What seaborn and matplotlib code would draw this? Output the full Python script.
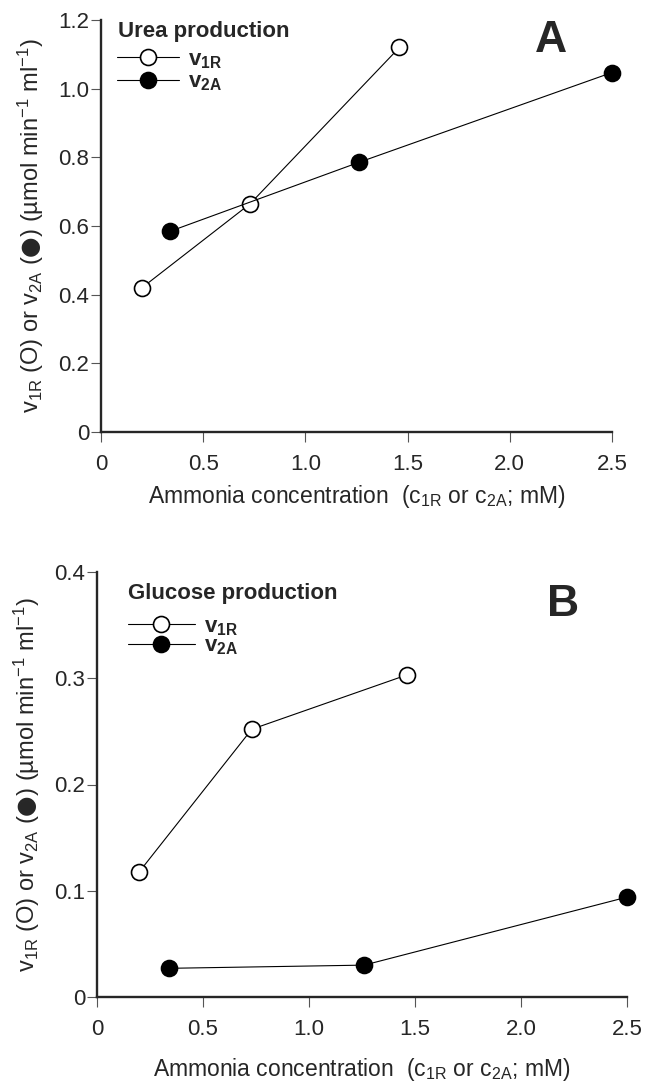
import matplotlib
matplotlib.use("Agg")
import matplotlib.pyplot as plt
import seaborn as sns

sns.set_style("ticks")
plt.rcParams["font.family"] = ["Liberation Sans", "DejaVu Sans"]
plt.rcParams["mathtext.fontset"] = "custom"
plt.rcParams["mathtext.rm"] = "Liberation Sans"
plt.rcParams["mathtext.it"] = "Liberation Sans:italic"
plt.rcParams["mathtext.bf"] = "Liberation Sans:bold"
plt.rcParams["mathtext.sf"] = "DejaVu Sans"

# --------------------------------------------------
# Data
# --------------------------------------------------

urea_c1R = [0.20, 0.73, 1.46]
urea_v1R = [0.42, 0.665, 1.12]
urea_c2A = [0.34, 1.26, 2.50]
urea_v2A = [0.585, 0.785, 1.047]

gluc_c1R = [0.20, 0.73, 1.46]
gluc_v1R = [0.118, 0.252, 0.303]
gluc_c2A = [0.34, 1.26, 2.50]
gluc_v2A = [0.027, 0.030, 0.094]

urea_yticks = [0, 0.2, 0.4, 0.6, 0.8, 1.0, 1.2]
urea_ylabels = ["0", "0.2", "0.4", "0.6", "0.8", "1.0", "1.2"]
gluc_yticks = [0, 0.1, 0.2, 0.3, 0.4]
gluc_ylabels = ["0", "0.1", "0.2", "0.3", "0.4"]
xticks = [0, 0.5, 1.0, 1.5, 2.0, 2.5]
xlabels = ["0", "0.5", "1.0", "1.5", "2.0", "2.5"]

ylab = r"v$_{\rm 1R}$ (O) or v$_{\rm 2A}$ ($\mathsf{●}$) (µmol min$^{-1}$ ml$^{-1}$)"
xlab = r"Ammonia concentration  (c$_{\rm 1R}$ or c$_{\rm 2A}$; mM)"
lab1 = r"$\mathbf{v}_{\mathbf{1R}}$"
lab2 = r"$\mathbf{v}_{\mathbf{2A}}$"

W, H = 649, 1081
fig = plt.figure(figsize=(W / 100, H / 100), dpi=100)

# axes boxes in pixels: left, top, right, bottom
axA = fig.add_axes([101 / W, 1 - 432 / H, (612 - 101) / W, (432 - 20) / H])
axB = fig.add_axes([97 / W, 1 - 997 / H, (627 - 97) / W, (997 - 572) / H])

style = dict(color="black", linewidth=0.8, markersize=11.5,
             markeredgewidth=1.2, markeredgecolor="black", clip_on=False,
             sort=False, estimator=None)


def panel(ax, c1, v1, c2, v2, ymax, yt, yl, title, letter, title_xy,
          leg_xy, let_xy, ylab_x, xlab_y, spacing, hlen):
    sns.lineplot(x=c1, y=v1, ax=ax, marker="o", markerfacecolor="white",
                 label=lab1, **style)
    sns.lineplot(x=c2, y=v2, ax=ax, marker="o", markerfacecolor="black",
                 label=lab2, **style)
    ax.set_xlim(0, 2.5)
    ax.set_ylim(0, ymax)
    ax.set_xticks(xticks)
    ax.set_xticklabels(xlabels)
    ax.set_yticks(yt)
    ax.set_yticklabels(yl)
    sns.despine(ax=ax)
    for s in ["left", "bottom"]:
        ax.spines[s].set_linewidth(1.7)
    ax.tick_params(direction="out", length=7.5, width=0.8, color="#555555",
                   labelsize=16)
    ax.tick_params(axis="x", pad=8)
    ax.tick_params(axis="y", pad=1)
    ax.set_xlabel(xlab, fontsize=16.5, va="top")
    ax.xaxis.set_label_coords(0.5, xlab_y)
    ax.set_ylabel(ylab, fontsize=17)
    ax.yaxis.set_label_coords(ylab_x, 0.5)
    ax.legend(loc="upper left", frameon=False,
              bbox_to_anchor=(leg_xy[0] / W, 1 - leg_xy[1] / H),
              bbox_transform=fig.transFigure, fontsize=16,
              handlelength=hlen, handletextpad=0.4,
              labelspacing=spacing, borderaxespad=0, borderpad=0)
    fig.text(title_xy[0] / W, 1 - title_xy[1] / H, title, fontsize=16,
             fontweight="bold", ha="left", va="baseline")
    fig.text(let_xy[0] / W, 1 - let_xy[1] / H, letter, fontsize=32,
             fontweight="bold", ha="center", va="baseline")


panel(axA, urea_c1R, urea_v1R, urea_c2A, urea_v2A, 1.2,
      urea_yticks, urea_ylabels, "Urea production", "A",
      (118, 37), (117, 49), (551, 52), -0.108, -0.125, 0.05, 2.8)
panel(axB, gluc_c1R, gluc_v1R, gluc_c2A, gluc_v2A, 0.4,
      gluc_yticks, gluc_ylabels, "Glucose production", "B",
      (128, 599), (128, 616), (563, 616), -0.104, -0.138, -0.1, 3.0)

fig.savefig("out.png", dpi=100)
